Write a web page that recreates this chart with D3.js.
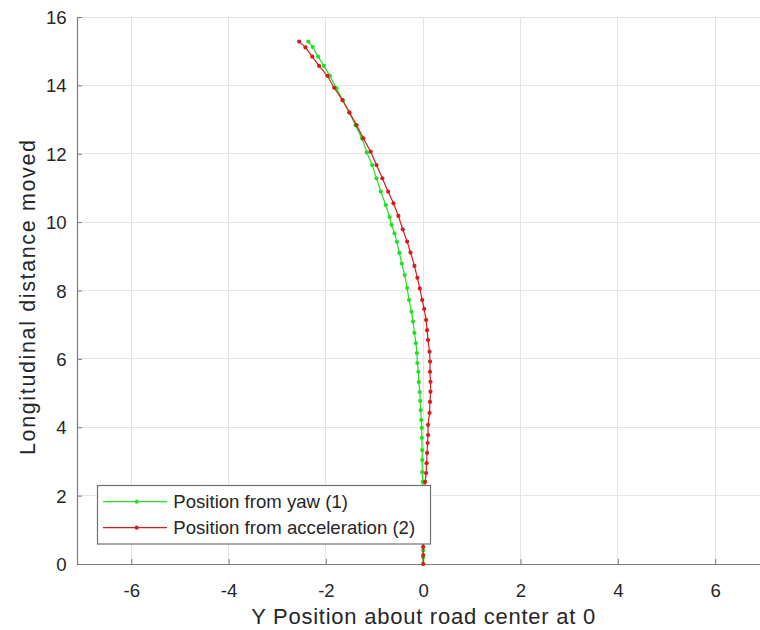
<!DOCTYPE html>
<html>
<head>
<meta charset="utf-8">
<script src="https://cdn.jsdelivr.net/npm/d3@7"></script>
<style>
  html, body { margin: 0; padding: 0; background: #fff; }
  svg { display: block; font-family: "Liberation Sans", Arial, Helvetica, sans-serif; }
</style>
</head>
<body>
<svg id="chart" width="760" height="630"></svg>
<script>
// Lateral position (m) vs. longitudinal distance (m), yaw-based estimate
const yawX = [-2.36, -2.27, -2.16, -2.04, -1.92, -1.78, -1.65, -1.51, -1.39, -1.26,
              -1.16, -1.05, -0.96, -0.87, -0.77, -0.69, -0.65, -0.59, -0.54, -0.49,
              -0.44, -0.38, -0.33, -0.29, -0.24, -0.21, -0.18, -0.15, -0.13, -0.12,
              -0.10, -0.09, -0.07, -0.06, -0.05, -0.04, -0.03, -0.03, -0.02, -0.02,
              -0.02, -0.01, -0.01, -0.01, -0.01, 0.00, 0.00, 0.00, 0.00, 0.00, 0.00];
const yawY = [15.28, 15.12, 14.84, 14.57, 14.28, 13.91, 13.56, 13.19, 12.83, 12.45,
              12.04, 11.67, 11.28, 10.89, 10.50, 10.15, 9.92, 9.67, 9.42, 9.10,
              8.79, 8.45, 8.07, 7.72, 7.38, 7.09, 6.76, 6.46, 6.17, 5.88,
              5.62, 5.32, 5.03, 4.77, 4.50, 4.21, 3.98, 3.69, 3.33, 3.04,
              2.69, 2.40, 2.10, 1.80, 1.50, 1.20, 0.90, 0.62, 0.40, 0.20, 0.00];

// Acceleration-based estimate
const accX = [-2.55, -2.42, -2.28, -2.14, -1.97, -1.83, -1.66, -1.52, -1.37, -1.23,
              -1.08, -0.96, -0.84, -0.72, -0.61, -0.51, -0.42, -0.33, -0.26, -0.18,
              -0.12, -0.07, -0.02, 0.02, 0.06, 0.08, 0.10, 0.13, 0.14, 0.14,
              0.15, 0.15, 0.14, 0.13, 0.10, 0.10, 0.09, 0.08, 0.07, 0.06,
              0.04, 0.03, 0.02, 0.02, 0.01, 0.01, 0.01, 0.00, 0.00, 0.00];
const accY = [15.28, 15.11, 14.84, 14.57, 14.28, 13.93, 13.57, 13.21, 12.84, 12.45,
              12.06, 11.67, 11.28, 10.89, 10.55, 10.18, 9.79, 9.43, 9.11, 8.72,
              8.37, 8.06, 7.72, 7.46, 7.14, 6.84, 6.55, 6.21, 5.92, 5.62,
              5.33, 5.04, 4.74, 4.42, 4.07, 3.77, 3.54, 3.25, 2.95, 2.66,
              2.40, 2.11, 1.82, 1.53, 1.24, 0.95, 0.72, 0.50, 0.26, 0.00];

const xTicks = [-6, -4, -2, 0, 2, 4, 6];
const yTicks = [0, 2, 4, 6, 8, 10, 12, 14, 16];
const seriesNames = ["Position from yaw (1)", "Position from acceleration (2)"];
const seriesColors = ["#22e022", "#d81c1c"];

const svg = d3.select("#chart");
const axisGray = "#7d7d7d";
const textColor = "#262626";

const x = d3.scaleLinear().domain([-7.116, 7.116]).range([77, 769.4]);
const y = d3.scaleLinear().domain([0, 16]).range([564, 17]);

// grid
const grid = svg.append("g");
grid.selectAll("line.gx").data(xTicks).enter().append("line")
  .attr("x1", d => x(d)).attr("x2", d => x(d))
  .attr("y1", y(0)).attr("y2", y(16))
  .attr("stroke", "#e4e4e4").attr("stroke-width", 1).attr("shape-rendering", "crispEdges");
grid.selectAll("line.gy").data(yTicks).enter().append("line")
  .attr("x1", x.range()[0]).attr("x2", x.range()[1])
  .attr("y1", d => y(d)).attr("y2", d => y(d))
  .attr("stroke", "#e4e4e4").attr("stroke-width", 1).attr("shape-rendering", "crispEdges");

// axes (plain hyphen for negative tick labels)
const plain = d => String(d);
const xAxis = svg.append("g").attr("transform", `translate(0,${y(0)})`)
  .call(d3.axisBottom(x).tickValues(xTicks).tickFormat(plain).tickSize(-5).tickSizeOuter(0));
const yAxis = svg.append("g").attr("transform", `translate(${x.range()[0]},0)`)
  .call(d3.axisLeft(y).tickValues(yTicks).tickFormat(plain).tickSize(-5).tickSizeOuter(0));

[xAxis, yAxis].forEach(g => {
  g.select(".domain").attr("stroke", axisGray).attr("stroke-width", 1.2);
  g.selectAll(".tick line").attr("stroke", axisGray).attr("stroke-width", 1);
  g.selectAll(".tick text").attr("fill", textColor)
    .style("font-size", "18.6px").style("font-family", "'Liberation Sans', Arial, sans-serif");
});
xAxis.selectAll(".tick text").attr("dy", null).attr("y", 32.7);
yAxis.selectAll(".tick text").attr("x", -10.3).attr("dy", "0.35em");

// data series
const series = [
  { xs: yawX, ys: yawY, color: seriesColors[0] },
  { xs: accX, ys: accY, color: seriesColors[1] }
];
const line = d3.line().x(d => x(d[0])).y(d => y(d[1]));
series.forEach(s => {
  const pts = s.xs.map((v, i) => [v, s.ys[i]]);
  const g = svg.append("g");
  g.append("path").datum(pts).attr("d", line)
    .attr("fill", "none").attr("stroke", s.color).attr("stroke-width", 1.2);
  g.selectAll("circle").data(pts).enter().append("circle")
    .attr("cx", d => x(d[0])).attr("cy", d => y(d[1])).attr("r", 2.1)
    .attr("fill", s.color);
});

// axis labels
svg.append("text")
  .attr("x", x(0)).attr("y", 624)
  .attr("text-anchor", "middle").attr("fill", textColor)
  .attr("textLength", 344).attr("lengthAdjust", "spacing")
  .style("font-size", "22px")
  .text("Y Position about road center at 0");
svg.append("text")
  .attr("transform", "translate(35,297.5) rotate(-90)")
  .attr("text-anchor", "middle").attr("fill", textColor)
  .attr("textLength", 315).attr("lengthAdjust", "spacing")
  .style("font-size", "21.5px")
  .text("Longitudinal distance moved");

// legend
const leg = svg.append("g");
leg.append("rect")
  .attr("x", 97.5).attr("y", 485.5).attr("width", 333).attr("height", 58.5)
  .attr("fill", "#fff").attr("stroke", "#707070").attr("stroke-width", 1.2);
seriesNames.forEach((name, i) => {
  const cy = 501.7 + i * 26;
  leg.append("line").attr("x1", 103).attr("x2", 167).attr("y1", cy).attr("y2", cy)
    .attr("stroke", seriesColors[i]).attr("stroke-width", 1.2);
  leg.append("circle").attr("cx", 136.7).attr("cy", cy).attr("r", 2.1).attr("fill", seriesColors[i]);
  leg.append("text").attr("x", 173.3).attr("y", cy).attr("dy", "0.35em")
    .attr("fill", textColor).style("font-size", "18.6px").text(name);
});
</script>
</body>
</html>
